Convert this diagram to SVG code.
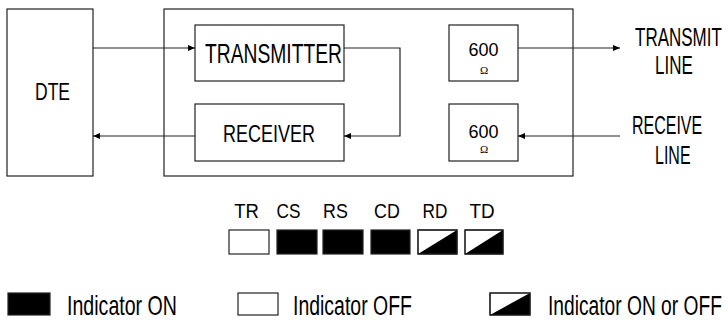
<svg xmlns="http://www.w3.org/2000/svg" width="728" height="320" viewBox="0 0 728 320">
<defs>
<style>
.box{fill:#fff;stroke:#222;stroke-width:1.2}
.t{font-family:"Liberation Sans",Arial,sans-serif;fill:#000}
.c{stroke:#222;stroke-width:1.2;fill:none}
.on{fill:#000;stroke:#222;stroke-width:1.2}
.off{fill:#fff;stroke:#222;stroke-width:1.2}
.lbl{font-family:"Liberation Sans",Arial,sans-serif;fill:#000;font-size:21px;text-anchor:middle}
</style>
<marker id="ah" viewBox="0 0 7 6" refX="7" refY="3" markerWidth="7" markerHeight="6" markerUnits="userSpaceOnUse" orient="auto">
<path d="M0,0 L7,3 L0,6 z" fill="#000"/>
</marker>
<g id="half">
<rect x="0" y="0" width="40" height="23" class="off"/>
<path d="M0,23 L40,0 L40,23 z" fill="#000"/>
<rect x="0" y="0" width="40" height="23" fill="none" stroke="#222" stroke-width="1.2"/>
</g>
</defs>
<rect width="728" height="320" fill="#fff"/>
<g id="modem">
<rect x="164" y="9" width="409" height="167" class="box" stroke="#444"/>
</g>
<g id="dte">
<rect x="7" y="9" width="86" height="167" class="box"/>
<text class="t" font-size="24" transform="translate(35,100) scale(0.73,1)">DTE</text>
</g>
<g id="transmitter">
<rect x="195" y="25" width="149" height="56" class="box"/>
<text class="t" font-size="28" transform="translate(205,63) scale(0.688,1)">TRANSMITTER</text>
</g>
<g id="receiver">
<rect x="195" y="104" width="149" height="57" class="box"/>
<text class="t" font-size="24" transform="translate(223,142) scale(0.75,1)">RECEIVER</text>
</g>
<g id="imp1">
<rect x="449" y="25" width="69" height="56" class="box"/>
<text class="t" x="483.5" y="56" font-size="18" text-anchor="middle">600</text>
<text x="484" y="74" font-size="11" text-anchor="middle" font-family="'Liberation Serif',serif">Ω</text>
</g>
<g id="imp2">
<rect x="449" y="104" width="69" height="57" class="box"/>
<text class="t" x="483.5" y="138" font-size="18" text-anchor="middle">600</text>
<text x="484" y="153" font-size="11" text-anchor="middle" font-family="'Liberation Serif',serif">Ω</text>
</g>
<g id="tline">
<text class="t" font-size="25" transform="translate(635,46) scale(0.68,1)"><tspan x="0" y="0">TRANSMIT</tspan><tspan x="29.4" y="28">LINE</tspan></text>
</g>
<g id="rline">
<text class="t" font-size="25" transform="translate(632,134) scale(0.64,1)"><tspan x="0" y="0">RECEIVE</tspan><tspan x="36" y="30">LINE</tspan></text>
</g>
<g id="connectors">
<line x1="93" y1="48" x2="195" y2="48" class="c" marker-end="url(#ah)"/>
<line x1="195" y1="136" x2="93" y2="136" class="c" marker-end="url(#ah)"/>
<polyline points="344,48 400,48 400,136 344,136" class="c" marker-end="url(#ah)"/>
<line x1="518" y1="48" x2="620" y2="48" class="c" marker-end="url(#ah)"/>
<line x1="620" y1="136" x2="518" y2="136" class="c" marker-end="url(#ah)"/>
</g>
<g id="indicators">
<text class="lbl" transform="translate(246.5,218) scale(0.88,1)">TR</text>
<text class="lbl" transform="translate(288.5,218) scale(0.82,1)">CS</text>
<text class="lbl" transform="translate(335.5,218) scale(0.85,1)">RS</text>
<text class="lbl" transform="translate(387,218) scale(0.85,1)">CD</text>
<text class="lbl" transform="translate(435,218) scale(0.82,1)">RD</text>
<text class="lbl" transform="translate(482,218) scale(0.9,1)">TD</text>
<rect x="229" y="230" width="40" height="24" class="off"/>
<rect x="277" y="230" width="40" height="24" class="on"/>
<rect x="323" y="230" width="40" height="24" class="on"/>
<rect x="371" y="230" width="39" height="24" class="on"/>
<use href="#half" transform="translate(418,230) scale(0.975,1.043)"/>
<use href="#half" transform="translate(465,230) scale(0.95,1.043)"/>
</g>
<g id="legend">
<rect x="8" y="293" width="42" height="22" class="on"/>
<text class="t" font-size="28" transform="translate(67,315) scale(0.70,1)">Indicator ON</text>
<rect x="238" y="293" width="40" height="22" class="off"/>
<text class="t" font-size="28" transform="translate(293,315) scale(0.695,1)">Indicator OFF</text>
<use href="#half" transform="translate(490,293) scale(1,0.957)"/>
<text class="t" font-size="28" transform="translate(548,315) scale(0.686,1)">Indicator ON or OFF</text>
</g>
</svg>
